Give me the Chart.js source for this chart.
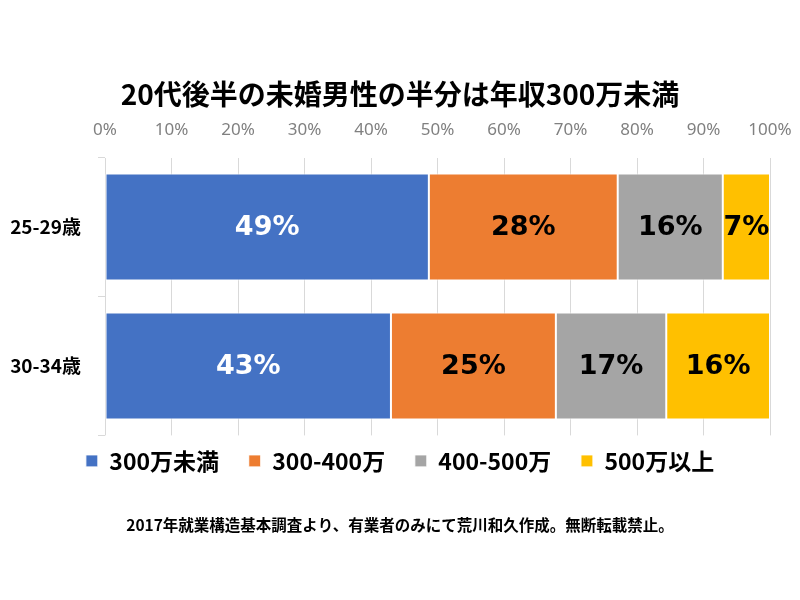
<!DOCTYPE html>
<html lang="ja">
<head>
<meta charset="utf-8">
<title>20代後半の未婚男性の半分は年収300万未満</title>
<script src="https://cdn.jsdelivr.net/npm/chart.js@4.4.1/dist/chart.umd.min.js"></script>
<style>
  html, body { margin: 0; padding: 0; background: #fff; }
  #wrap { width: 800px; height: 600px; }
</style>
</head>
<body>
<div id="wrap"><canvas id="incomeChart" width="800" height="600"></canvas></div>
<script>
// datos (porcentajes)
const ageGroups = ['25-29歳', '30-34歳'];
const seriesNames = ['300万未満', '300-400万', '400-500万', '500万以上'];
const under300 = [48.7, 43.0];
const from300to400 = [28.4, 24.8];
const from400to500 = [15.8, 16.6];
const over500 = [7.1, 15.6];
const xTicks = [0, 10, 20, 30, 40, 50, 60, 70, 80, 90, 100];

const colors = ['#4472C4', '#ED7D31', '#A5A5A5', '#FFC000'];
const labelColors = ['#ffffff', '#000000', '#000000', '#000000'];
const cjk = "'Noto Sans CJK JP', 'Noto Sans', sans-serif";

// etiquetas dentro de las barras
const barLabels = {
    id: 'barLabels',
    afterDatasetsDraw(chart) {
        const ctx = chart.ctx;
        ctx.save();
        ctx.font = "bold 27px 'DejaVu Sans', sans-serif";
        ctx.textAlign = 'center';
        ctx.textBaseline = 'middle';
        chart.data.datasets.forEach((ds, i) => {
            const meta = chart.getDatasetMeta(i);
            meta.data.forEach((bar, j) => {
                ctx.fillStyle = labelColors[i];
                ctx.fillText(Math.round(ds.data[j]) + '%', (bar.x + bar.base) / 2, bar.y + 1);
            });
        });
        ctx.restore();
    }
};

const allSeries = [under300, from300to400, from400to500, over500];

new Chart(document.getElementById('incomeChart').getContext('2d'), {
    type: 'bar',
    data: {
        labels: ageGroups,
        datasets: allSeries.map((values, i) => ({
            label: seriesNames[i],
            data: values,
            backgroundColor: colors[i],
            borderColor: '#ffffff',
            borderWidth: 1,
            borderSkipped: false,
            barPercentage: 0.77,
            categoryPercentage: 1
        }))
    },
    options: {
        indexAxis: 'y',
        responsive: false,
        animation: false,
        layout: { padding: 0 },
        scales: {
            x: {
                position: 'top',
                stacked: true,
                min: 0,
                max: 100,
                afterBuildTicks: axis => { axis.ticks = xTicks.map(v => ({ value: v })); },
                // alto fijo del eje y margen a la derecha del area del grafico
                afterFit: axis => {
                    axis.height = 36;
                    axis.paddingLeft = 0;
                    axis.paddingRight = 30;
                },
                ticks: {
                    callback: v => v + '%',
                    color: '#808080',
                    font: { family: "'Noto Sans', sans-serif", size: 17 },
                    padding: 17
                },
                grid: { color: '#d9d9d9', drawTicks: false },
                border: { display: false }
            },
            y: {
                stacked: true,
                afterFit: axis => { axis.width = 105; },
                ticks: {
                    color: '#000',
                    font: { family: cjk, size: 19, weight: 'bold' },
                    padding: 17
                },
                grid: { drawOnChartArea: false, color: '#d9d9d9', tickLength: 7 },
                border: { display: false }
            }
        },
        plugins: {
            title: {
                display: true,
                text: '20代後半の未婚男性の半分は年収300万未満',
                color: '#000',
                font: { family: cjk, size: 28, weight: 'bold' },
                padding: { top: 78, bottom: 10 }
            },
            legend: {
                position: 'bottom',
                labels: {
                    color: '#000',
                    font: { family: cjk, size: 23, weight: 'bold' },
                    boxWidth: 12,
                    boxHeight: 12,
                    padding: 14,
                    // espacio extra entre los items de la leyenda
                    generateLabels: chart => {
                        const items = Chart.defaults.plugins.legend.labels.generateLabels(chart);
                        items.forEach((it, i) => {
                            if (i < items.length - 1) it.text = it.text + '   ';
                        });
                        return items;
                    }
                }
            },
            subtitle: {
                display: true,
                position: 'bottom',
                text: '2017年就業構造基本調査より、有業者のみにて荒川和久作成。無断転載禁止。',
                color: '#000',
                font: { family: cjk, size: 15.5, weight: 'bold' },
                padding: { top: 33, bottom: 66 }
            },
            tooltip: { enabled: false }
        }
    },
    plugins: [barLabels]
});
</script>
</body>
</html>
